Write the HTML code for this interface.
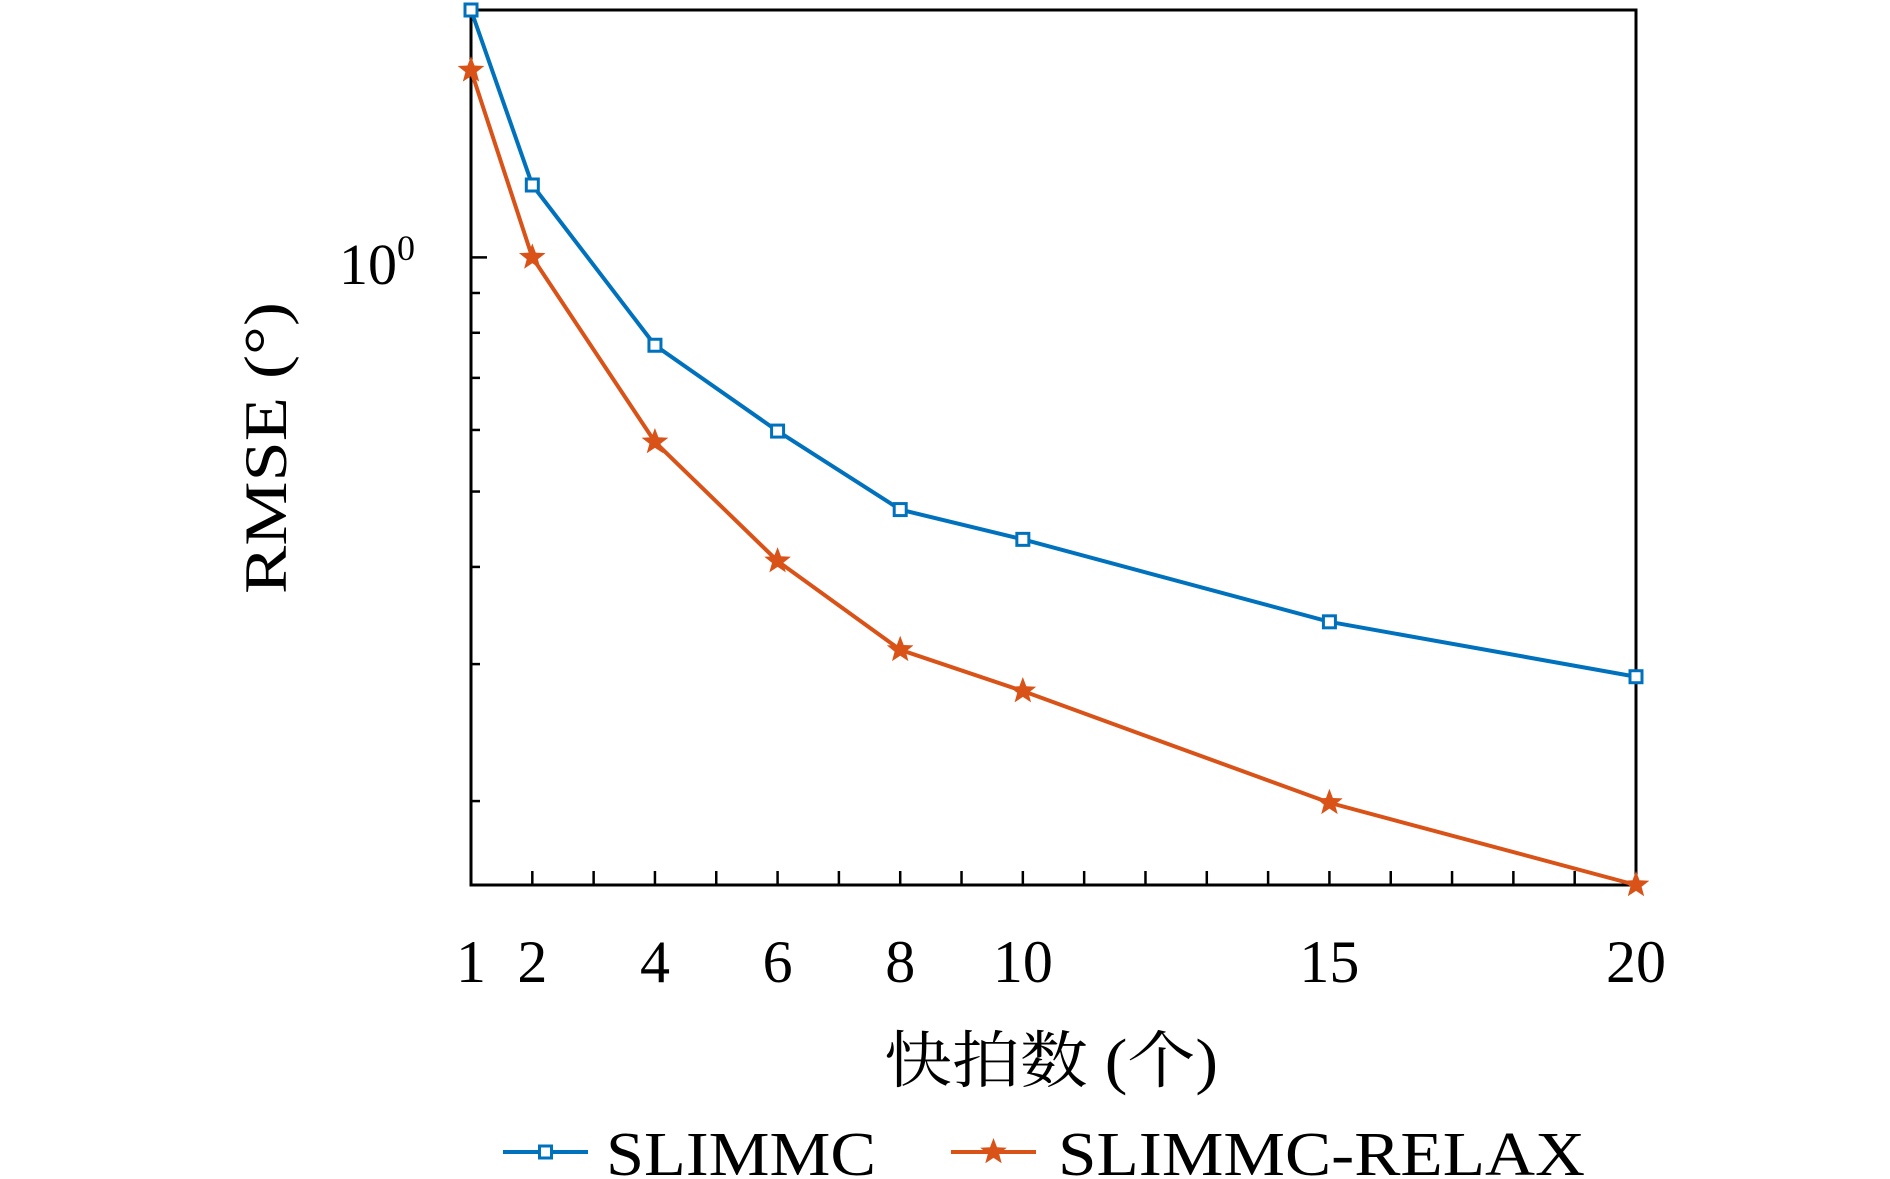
<!DOCTYPE html>
<html><head><meta charset="utf-8"><style>
html,body{margin:0;padding:0;background:#fff;}
svg{display:block;}
text{font-family:"Liberation Serif","Noto Serif CJK SC",serif;fill:#000;}
</style></head><body>
<svg id="chart" width="1890" height="1179" viewBox="0 0 1890 1179"></svg>
<script>
const snapshots = [1, 2, 4, 6, 8, 10, 15, 20];
const slimmc = [2.08, 1.239, 0.771, 0.598, 0.474, 0.434, 0.340, 0.289];
const slimmcRelax = [1.74, 1.0, 0.579, 0.407, 0.313, 0.277, 0.199, 0.156];
const xTickLabels = ["1", "2", "4", "6", "8", "10", "15", "20"];
const yMinorTicks = [0.2, 0.3, 0.4, 0.5, 0.6, 0.7, 0.8, 0.9];

const NS = "http://www.w3.org/2000/svg";
const svg = document.getElementById("chart");
const L = 471, R = 1636, T = 10, B = 885;
const xMin = 1, xMax = 20;
const yMin = 0.156, yMax = 2.08;
function xs(v){ return L + (v - xMin) / (xMax - xMin) * (R - L); }
function ys(v){ return B - (Math.log10(v) - Math.log10(yMin)) / (Math.log10(yMax) - Math.log10(yMin)) * (B - T); }
function mk(tag, attrs){ const e = document.createElementNS(NS, tag); for (const k in attrs) e.setAttribute(k, attrs[k]); svg.appendChild(e); return e; }

const frame = mk("rect", {x:L, y:T, width:R-L, height:B-T, fill:"none", stroke:"#000", "stroke-width":3});



for (let v = xMin; v <= xMax; v++) {
  const t = mk("line", {x1:xs(v), x2:xs(v), y1:B, y2:B-14, stroke:"#000", "stroke-width":2.5});
  
  
}
snapshots.forEach((v, i) => {
  const t = mk("text", {x:xs(v), y:982, "font-size":60, "text-anchor":"middle"});
  t.textContent = xTickLabels[i];
  
  
});
const yMajor = mk("line", {x1:L, x2:L+16, y1:ys(1), y2:ys(1), stroke:"#000", "stroke-width":2.5});


yMinorTicks.forEach(v => {
  const t = mk("line", {x1:L, x2:L+9, y1:ys(v), y2:ys(v), stroke:"#000", "stroke-width":2.5});
  
  
});
const yl = mk("text", {x:339, y:284, "font-size":58});
yl.innerHTML = '10<tspan dy="-24" font-size="36">0</tspan>';



const yt = mk("text", {x:0, y:0, "font-size":60, "text-anchor":"middle", textLength:292, lengthAdjust:"spacingAndGlyphs", transform:"translate(286,448) rotate(-90)"});
yt.textContent = "RMSE (°)";


const xt = mk("text", {x:1051, y:1082, "font-size":62, "text-anchor":"middle", textLength:334, lengthAdjust:"spacingAndGlyphs"});
xt.textContent = "快拍数 (个)";



function star(cx, cy, r){
  let p = [];
  for (let i = 0; i < 10; i++) {
    const a = -Math.PI/2 + i*Math.PI/5, rr = i%2 ? r*0.42 : r;
    p.push((cx + rr*Math.cos(a)).toFixed(1) + "," + (cy + rr*Math.sin(a)).toFixed(1));
  }
  return p.join(" ");
}
const blue = "#0072BD", orange = "#D95319";
const pb = mk("polyline", {points: snapshots.map((v,i)=>xs(v)+","+ys(slimmc[i])).join(" "), fill:"none", stroke:blue, "stroke-width":4});


const po = mk("polyline", {points: snapshots.map((v,i)=>xs(v)+","+ys(slimmcRelax[i])).join(" "), fill:"none", stroke:orange, "stroke-width":4});


snapshots.forEach((v,i) => {
  const m = mk("rect", {x:xs(v)-6, y:ys(slimmc[i])-6, width:12, height:12, fill:"#fff", stroke:blue, "stroke-width":3});
  
  
  const s = mk("polygon", {points: star(xs(v), ys(slimmcRelax[i]), 14), fill:orange});
  
  
});

const lg1 = mk("line", {x1:503, x2:588, y1:1152, y2:1152, stroke:blue, "stroke-width":4});


const lm1 = mk("rect", {x:539.5, y:1146, width:12, height:12, fill:"#fff", stroke:blue, "stroke-width":3});


const lt1 = mk("text", {x:606, y:1175, "font-size":62, textLength:270, lengthAdjust:"spacingAndGlyphs"});
lt1.textContent = "SLIMMC";


const lg2 = mk("line", {x1:951, x2:1036, y1:1152, y2:1152, stroke:orange, "stroke-width":4});


const lm2 = mk("polygon", {points: star(993.5, 1152, 14), fill:orange});


const lt2 = mk("text", {x:1058, y:1175, "font-size":62, textLength:527, lengthAdjust:"spacingAndGlyphs"});
lt2.textContent = "SLIMMC-RELAX";


</script>
</body></html>
